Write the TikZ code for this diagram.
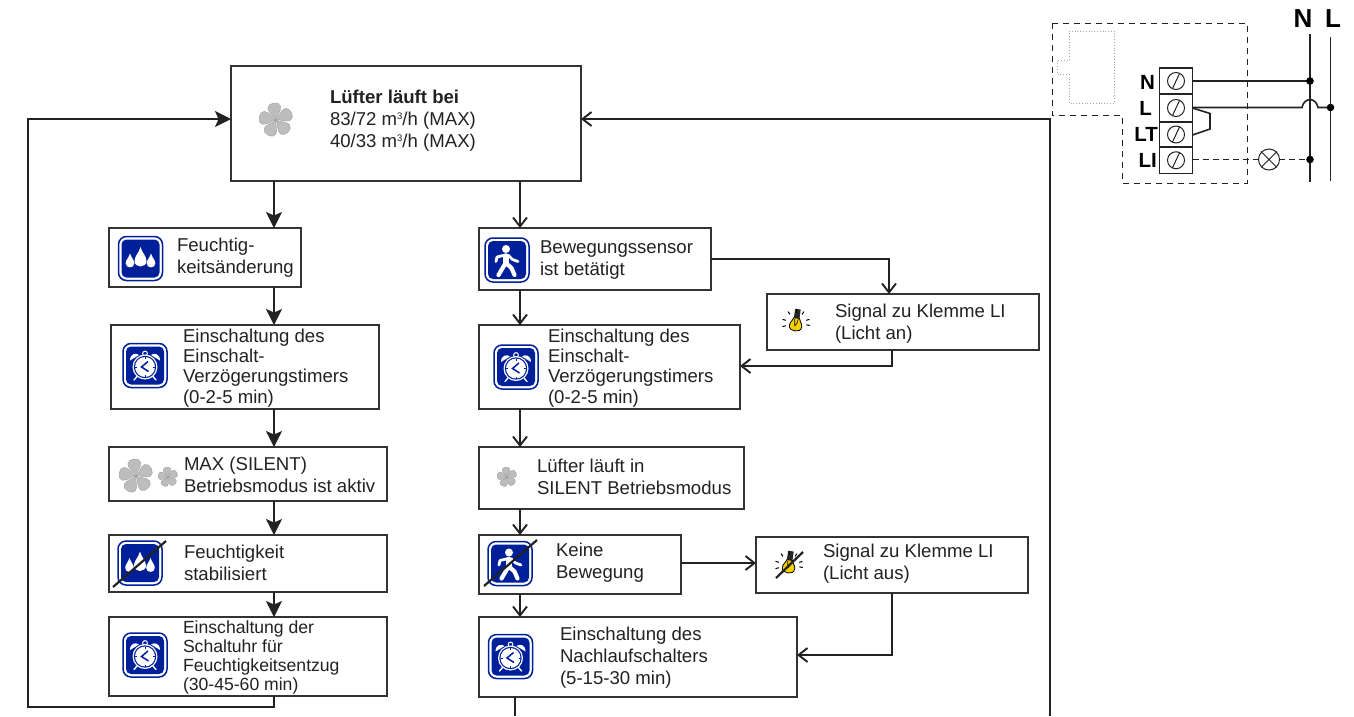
\documentclass[tikz,border=0pt]{standalone}
\usepackage{fontspec}
\setmainfont{Liberation Sans}
\usetikzlibrary{arrows.meta,calc}
\definecolor{ink}{HTML}{222222}
\definecolor{edge}{HTML}{333333}
\definecolor{iconblue}{HTML}{00209A}
\definecolor{fangrey}{HTML}{BDBDBD}
\definecolor{bulbyellow}{HTML}{F5D000}
\newcommand{\cub}{\raisebox{.62ex}{\fontsize{9.5}{9.5}\selectfont 3}}
\tikzset{
  box/.style={draw=edge,line width=1.4pt,fill=white,rectangle,inner sep=0pt,outer sep=0pt,anchor=north west},
  txt/.style={anchor=west,align=left,inner sep=0pt,outer sep=0pt,text=ink,font=\fontsize{18.6}{22}\selectfont},
  txtb/.style={txt,font=\fontsize{18.6}{20.2}\selectfont},
  txts/.style={txt,font=\fontsize{17.6}{18.8}\selectfont},
  big/.style={draw=ink,line width=1.4pt,-{Stealth[length=16pt,width=16pt,inset=3.5pt]}},
  open/.style={draw=ink,line width=1.3pt,-{Straight Barb[length=9pt,width=14pt,line width=1.9pt]}},
  plain/.style={draw=ink,line width=1.3pt},
  wire/.style={draw=ink,line width=1.6pt},
  term/.style={draw=ink,line width=1.4pt,fill=white,rectangle,inner sep=0pt,outer sep=0pt,anchor=north west,minimum width=33pt},
  termlab/.style={anchor=east,inner sep=0pt,text=black,font=\fontsize{20.5}{22}\bfseries\selectfont},
  buslab/.style={anchor=center,inner sep=0pt,text=black,font=\fontsize{26}{28}\bfseries\selectfont},
  strike/.style={draw=ink,line width=2.2pt},
  icon/.pic={
    \draw[iconblue,line width=1.5pt,fill=white,rounded corners=8pt] (-22,-22) rectangle (22,22);
    \fill[iconblue,rounded corners=5pt] (-19,-19) rectangle (19,19);
  },
  drops/.pic={
    \pic {icon};
    \foreach \dx/\dy/\s in {-10.5/3.5/0.72,0/0.5/1.0,10.5/3.5/0.72}{
      \fill[white,shift={(\dx,\dy)},scale=\s] (0,-12) .. controls (1.5,-6) and (6,-3) .. (6,2) .. controls (6,5.5) and (3,7.5) .. (0,7.5) .. controls (-3,7.5) and (-6,5.5) .. (-6,2) .. controls (-6,-3) and (-1.5,-6) .. (0,-12) -- cycle;
    }
  },
  clock/.pic={
    \pic {icon};
    \fill[white] (-15,-5) .. controls (-15,-12) and (-9,-13) .. (-6,-10.5) -- cycle;
    \fill[white] (15,-5) .. controls (15,-12) and (9,-13) .. (6,-10.5) -- cycle;
    \draw[white,line width=1pt] (0,-12) circle (2.4pt);
    \fill[white] (0,1.5) circle (12.5pt);
    \fill[iconblue] (0,1.5) circle (11.2pt);
    \fill[white] (0,1.5) circle (10pt);
    \draw[iconblue,line width=1.5pt,line join=miter] (3,-4) -- (-3.5,1.5) -- (3.5,6);
    \foreach \a in {0,90,180,270}{\draw[iconblue,line width=.6pt,shift={(0,1.5)},rotate=\a] (8,0) -- (10,0);}
    \draw[white,line width=1.4pt,line cap=round] (-8,11) -- (-11,14.5) (8,11) -- (11,14.5);
  },
  walker/.pic={
    \pic {icon};
    \fill[white] (-1,-11) circle (4pt);
    \draw[white,line width=6.5pt,line cap=round] (-1,-3.5) -- (-1,3);
    \draw[white,line width=2.8pt,line cap=round,line join=round] (-2,-5) -- (-10,-3) -- (-11,1.5);
    \draw[white,line width=2.8pt,line cap=round,line join=round] (1,-5) -- (5.5,-0.5) -- (11,1.5);
    \draw[white,line width=4.2pt,line cap=round,line join=round] (-2,4) -- (-8.5,15);
    \draw[white,line width=4.2pt,line cap=round,line join=round] (0,4) -- (4.5,8) -- (7.5,15);
  },
  fan/.pic={
    \foreach \a in {8,80,...,296}{
      \fill[fangrey,rotate=\a,draw=gray!85,line width=.3pt] (0,0) .. controls (-1,-4) and (-6.8,-8) .. (-6.5,-13) .. controls (-6,-18.5) and (6,-18.5) .. (6.5,-13) .. controls (6.8,-8) and (1,-4) .. (0,0) -- cycle;
    }
  },
  bulb/.pic={
    \begin{scope}[rotate=-8]
    \fill[black!85] (-2.8,-14) rectangle (2.8,-5);
    \draw[black,line width=.8pt,fill=bulbyellow] (-2.8,-5) .. controls (-3,-2) and (-6.2,-1) .. (-6.2,3) .. controls (-6.2,7) and (-3,8) .. (0,8) .. controls (3,8) and (6.2,7) .. (6.2,3) .. controls (6.2,-1) and (3,-2) .. (2.8,-5) -- cycle;
    \draw[black,line width=.6pt] (-1.8,-4) -- (-.8,3) -- (1,0) -- (1.8,-4);
    \end{scope}
    \foreach \a in {-10,15,55,90,125,165,195}{
      \draw[black,line width=1pt,rotate=\a] (10.5,0) -- (14,0);
    }
  }
}
\newcommand{\bx}[5]{%
  \pgfmathsetmacro{\bw}{#4-#2}\pgfmathsetmacro{\bh}{#5-#3}%
  \node[box,minimum width=\bw pt,minimum height=\bh pt] (#1) at (#2,#3) {};}
\newcommand{\tb}[3]{%
  \pgfmathsetmacro{\bh}{#3}%
  \node[term,minimum height=\bh pt] (#1) at (1159.5,#2) {};}
\begin{document}
\begin{tikzpicture}[x=1pt,y=-1pt]
\useasboundingbox (0,0) rectangle (1354,716);
\fill[white] (0,0) rectangle (1354,716);
% column guides and free ends
\coordinate (cl) at (274,0);
\coordinate (cr) at (520,0);
\coordinate (cn) at (515,0);
\coordinate (cs) at (892,0);
\coordinate (csi) at (889,0);
\coordinate (fbl) at (28,707);
\coordinate (fbr) at (1050,716);
\coordinate (endn) at (515,716);
\coordinate (rowm) at (0,119);
\coordinate (rowb) at (0,259);
\coordinate (rowk) at (0,563);
\coordinate (rows) at (0,366);
\coordinate (rowa) at (0,655);
% boxes
\bx{top}{231}{66}{581}{181}
\bx{feu}{109}{228}{301}{287}
\bx{einl}{111}{325}{379}{409}
\bx{max}{109}{447}{387}{501}
\bx{sta}{109}{535}{387}{592}
\bx{uhr}{109}{617}{387}{696}
\bx{bew}{479}{228}{711}{290}
\bx{sig}{767}{294}{1039}{350}
\bx{einr}{479}{325}{740}{409}
\bx{sil}{479}{447}{744}{509}
\bx{kei}{479}{535}{681}{594}
\bx{aus}{756}{537}{1028}{593}
\bx{nach}{479}{617}{797}{697}
% connectors: left column
\draw[big] (top.south -| cl) -- (feu.north -| cl);
\draw[big] (feu.south -| cl) -- (einl.north -| cl);
\draw[big] (einl.south -| cl) -- (max.north -| cl);
\draw[big] (max.south -| cl) -- (sta.north -| cl);
\draw[big] (sta.south -| cl) -- (uhr.north -| cl);
\draw[big] (uhr.south -| cl) -- (fbl -| cl) -- (fbl) -- (fbl |- rowm) -- (top.west |- rowm);
% connectors: right column
\draw[open] (top.south -| cr) -- (bew.north -| cr);
\draw[open] (bew.south -| cr) -- (einr.north -| cr);
\draw[open] (einr.south -| cr) -- (sil.north -| cr);
\draw[open] (sil.south -| cr) -- (kei.north -| cr);
\draw[open] (kei.south -| cr) -- (nach.north -| cr);
\draw[plain] (nach.south -| cn) -- (endn);
\draw[open] (bew.east |- rowb) -| (sig.north -| csi);
\draw[open] (sig.south -| cs) |- (einr.east |- rows);
\draw[open] (kei.east |- rowk) -- (aus.west |- rowk);
\draw[open] (aus.south -| cs) |- (nach.east |- rowa);
\draw[open] (fbr) |- (top.east |- rowm);
% texts
\node[txt] (t1) at (330,121) {\textbf{Lüfter läuft bei}\\83/72 m\cub/h (MAX)\\40/33 m\cub/h (MAX)};
\node[txt] (t2) at (177,258) {Feuchtig-\\keitsänderung};
\node[txtb] (t3) at (183,368) {Einschaltung des\\Einschalt-\\Verzögerungstimers\\(0-2-5 min)};
\node[txt] (t4) at (184,475) {MAX (SILENT)\\Betriebsmodus ist aktiv};
\node[txt] (t5) at (184,563) {Feuchtigkeit\\stabilisiert};
\node[txts] (t6) at (183,657.5) {Einschaltung der\\Schaltuhr für\\Feuchtigkeitsentzug\\(30-45-60 min)};
\node[txt] (t7) at (540,260) {Bewegungssensor\\ist betätigt};
\node[txt] (t8) at (835,324) {Signal zu Klemme LI\\(Licht an)};
\node[txtb] (t9) at (548,368) {Einschaltung des\\Einschalt-\\Verzögerungstimers\\(0-2-5 min)};
\node[txt] (t10) at (537,477) {Lüfter läuft in\\SILENT Betriebsmodus};
\node[txt] (t11) at (556,562.5) {Keine\\Bewegung};
\node[txt] (t12) at (823,563.5) {Signal zu Klemme LI\\(Licht aus)};
\node[txt] (t13) at (560,657.5) {Einschaltung des\\Nachlaufschalters\\(5-15-30 min)};
% icons
\pic at (276,120) {fan};
\pic at (140.5,258.5) {drops};
\pic at (145,365.5) {clock};
\pic[scale=1] at (136,476) {fan};
\pic[scale=.58] at (168,477) {fan};
\pic at (140,563) {drops};
\draw[strike] (113,587) -- (166,541);
\pic at (145,655) {clock};
\pic at (507,260) {walker};
\pic at (516,367) {clock};
\pic[scale=.58] at (507,477) {fan};
\pic at (510,563.5) {walker};
\draw[strike] (484,586) -- (537,540);
\pic at (510.5,656.5) {clock};
\pic at (796,323) {bulb};
\pic at (789,565) {bulb};
\draw[strike] (776,578) -- (803,552);
% wiring: housing outlines
\draw[ink,line width=1pt,dash pattern=on 6pt off 5pt] (1052,23) -- (1247,23) -- (1247,183) -- (1122,183) -- (1122,115) -- (1052,115) -- cycle;
\draw[gray!70,line width=.8pt,dotted] (1069,31) -- (1114,31) -- (1114,103) -- (1069,103) -- (1069,74) -- (1057,74) -- (1057,60) -- (1069,60) -- cycle;
% terminals
\tb{tn}{68}{26}
\tb{tl}{94}{28}
\tb{tt}{122}{25}
\tb{ti}{147}{26.5}
\foreach \n in {tn,tl,tt,ti}{
  \draw[ink,line width=1pt] (\n.center) circle (8.5pt);
  \draw[ink,line width=1pt] ($(\n.center)+(-3.5,7.5)$) -- ($(\n.center)+(3.5,-7.5)$);
}
\node[termlab] (ln) at (1155,82) {N};
\node[termlab] (ll) at (1152,108) {L};
\node[termlab] (lt) at (1158,134) {LT};
\node[termlab] (li) at (1157,160) {LI};
\node[buslab] (bn) at (1303,19) {N};
\node[buslab] (bl) at (1333,19) {L};
\coordinate (nend) at (1310,182);
\coordinate (lend) at (1330.5,181);
\coordinate (lmp) at (1269,159.5);
\draw[wire] (1310,34) coordinate (nstart) -- (nend);
\draw[wire] (1330.5,37) coordinate (lstart) -- (lend);
\coordinate (dn) at (1310,81);
\coordinate (dl) at (1330.5,107.5);
\coordinate (di) at (1310,159.5);
\draw[wire] (tn.east |- dn) -- (dn);
\draw[wire] (tl.east |- dl) -- (1302,107.5) .. controls (1304,97) and (1316,97) .. (1318,107.5) -- (dl);
\draw[wire] (1192.5,108) -- (1210,113.5) -- (1210,129) -- (1192.5,135);
\draw[wire,dash pattern=on 6pt off 4pt] (ti.east |- lmp) -- (lmp);
\draw[wire,dash pattern=on 6pt off 4pt] (lmp) -- (di);
\node[circle,fill=white,draw=ink,line width=1pt,minimum size=21pt,inner sep=0pt] (lamp) at (lmp) {};
\draw[ink,line width=1pt] (lamp.45) -- (lamp.225) (lamp.135) -- (lamp.315);
\fill[black] (dn) circle (3.8pt) (dl) circle (3.8pt) (di) circle (3.8pt);
\end{tikzpicture}
\end{document}
